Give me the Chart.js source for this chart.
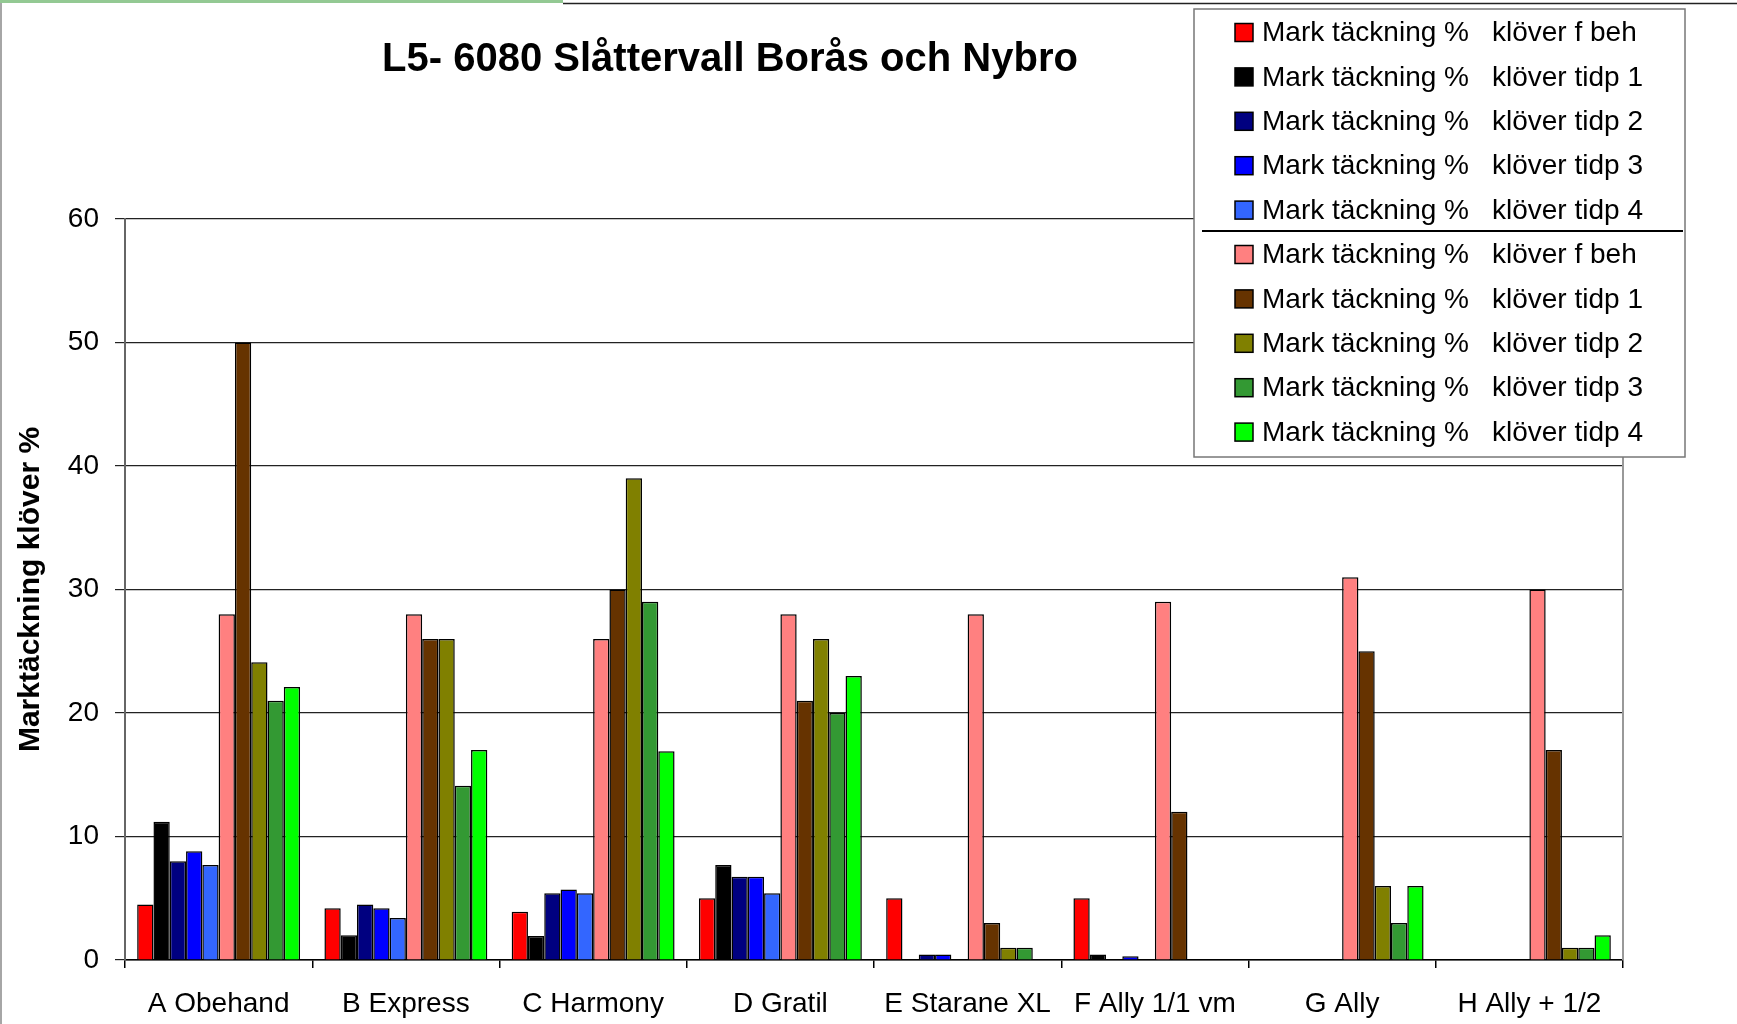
<!DOCTYPE html>
<html>
<head>
<meta charset="utf-8">
<script src="https://cdn.jsdelivr.net/npm/chart.js@4.4.0/dist/chart.umd.min.js"></script>
<style>
  body { margin: 0; background: #fff; }
  #wrap { width: 1737px; height: 1024px; position: relative; }
</style>
</head>
<body>
<div id="wrap"><canvas id="myChart"></canvas></div>
<script>
// categories + tick values
const categories = ['A Obehand', 'B Express', 'C Harmony', 'D Gratil', 'E Starane XL', 'F Ally 1/1 vm', 'G Ally', 'H Ally + 1/2'];
const yTicks = [0, 10, 20, 30, 40, 50, 60];
const chartTitle = 'L5- 6080 Slåttervall Borås och Nybro';

const seriesLabels = [
  'Mark täckning %  klöver f beh',
  'Mark täckning %  klöver tidp 1',
  'Mark täckning %  klöver tidp 2',
  'Mark täckning %  klöver tidp 3',
  'Mark täckning %  klöver tidp 4',
  'Mark täckning %  klöver f beh',
  'Mark täckning %  klöver tidp 1',
  'Mark täckning %  klöver tidp 2',
  'Mark täckning %  klöver tidp 3',
  'Mark täckning %  klöver tidp 4'
];
const seriesColors = ['#FF0000', '#000000', '#000080', '#0000FF', '#3366FF', '#FF8080', '#663300', '#808000', '#339933', '#00FF00'];

// first site
const first_fBeh = [4.5, 4.2, 3.9, 5, 5, 5, null, null];
const first_tidp1 = [11.2, 2, 1.95, 7.7, null, 0.45, null, null];
const first_tidp2 = [8, 4.5, 5.4, 6.75, 0.45, null, null, null];
const first_tidp3 = [8.8, 4.2, 5.7, 6.75, 0.45, 0.3, null, null];
const first_tidp4 = [7.7, 3.4, 5.4, 5.4, null, null, null, null];
// second site
const second_fBeh = [28, 28, 26, 28, 28, 29, 31, 30];
const second_tidp1 = [50, 26, 30, 21, 3, 12, 25, 17];
const second_tidp2 = [24.1, 26, 39, 26, 1, null, 6, 1];
const second_tidp3 = [21, 14.1, 29, 20, 1, null, 3, 1];
const second_tidp4 = [22.1, 17, 16.9, 23, null, null, 6, 2];

const allSeries = [first_fBeh, first_tidp1, first_tidp2, first_tidp3, first_tidp4,
  second_fBeh, second_tidp1, second_tidp2, second_tidp3, second_tidp4];

const FONT = "'Liberation Sans', Arial, Helvetica, sans-serif";

const datasets = allSeries.map((vals, i) => ({
  label: seriesLabels[i],
  data: vals,
  backgroundColor: seriesColors[i],
  borderColor: '#000',
  borderWidth: 1.5,
  categoryPercentage: 0.87,
  barPercentage: 1
}));

// frame, title, plot border and the boxed legend
const chrome = {
  id: 'chrome',
  beforeDraw(chart) {
    const ctx = chart.ctx;
    ctx.save();
    ctx.fillStyle = '#fff';
    ctx.fillRect(0, 0, chart.width, chart.height);
    ctx.fillStyle = '#93c993';
    ctx.fillRect(0, 0, 563, 3);
    ctx.strokeStyle = '#222';
    ctx.lineWidth = 1.5;
    ctx.beginPath();
    ctx.moveTo(563, 3.5);
    ctx.lineTo(chart.width, 3.5);
    ctx.stroke();
    ctx.strokeStyle = '#888';
    ctx.beginPath();
    ctx.moveTo(1, 3);
    ctx.lineTo(1, chart.height);
    ctx.stroke();

    ctx.fillStyle = '#000';
    ctx.font = 'bold 40px ' + FONT;
    ctx.textAlign = 'center';
    ctx.textBaseline = 'middle';
    ctx.fillText(chartTitle, 730, 60);
    ctx.restore();
  },
  afterDraw(chart) {
    const ctx = chart.ctx;
    const a = chart.chartArea;
    ctx.save();
    ctx.strokeStyle = '#999';
    ctx.lineWidth = 2;
    ctx.beginPath();
    ctx.moveTo(a.right, a.top);
    ctx.lineTo(a.right, a.bottom);
    ctx.stroke();

    // legend box
    const bx = 1194, by = 9, bw = 491, bh = 448;
    ctx.fillStyle = '#fff';
    ctx.fillRect(bx, by, bw, bh);
    ctx.strokeStyle = '#777';
    ctx.lineWidth = 1.5;
    ctx.strokeRect(bx, by, bw, bh);

    ctx.font = '28px ' + FONT;
    ctx.textBaseline = 'middle';
    ctx.textAlign = 'left';
    chart.data.datasets.forEach((ds, i) => {
      const y = 32.5 + i * 44.4;
      ctx.fillStyle = ds.backgroundColor;
      ctx.fillRect(1235, y - 9, 18, 18);
      ctx.strokeStyle = '#000';
      ctx.lineWidth = 1.5;
      ctx.strokeRect(1235, y - 9, 18, 18);
      ctx.fillStyle = '#000';
      const parts = ds.label.split('  ');
      ctx.fillText(parts[0], 1262, y + 1);
      ctx.fillText(parts[1], 1492, y + 1);
    });
    ctx.strokeStyle = '#000';
    ctx.lineWidth = 2;
    ctx.beginPath();
    ctx.moveTo(1202, 231);
    ctx.lineTo(1683, 231);
    ctx.stroke();
    ctx.restore();
  }
};

const ctx = document.getElementById('myChart').getContext('2d');
const myChart = new Chart(ctx, {
  type: 'bar',
  data: { labels: categories, datasets: datasets },
  options: {
    responsive: true,
    maintainAspectRatio: false,
    animation: false,
    layout: { padding: { left: 0, right: 114, top: 219, bottom: 0 } },
    plugins: {
      legend: { display: false },
      tooltip: { enabled: false },
      title: { display: false }
    },
    scales: {
      x: {
        grid: { offset: true, drawOnChartArea: false, drawTicks: true, tickLength: 8, color: '#000', lineWidth: 1.5 },
        border: { color: '#000', width: 1.5 },
        ticks: { color: '#000', padding: 19, maxRotation: 0, autoSkip: false, font: { family: FONT, size: 28 } },
        afterFit: (scale) => { scale.height = 64; }
      },
      y: {
        min: 0,
        max: 60,
        afterBuildTicks: (scale) => { scale.ticks = yTicks.map(v => ({ value: v })); },
        grid: { color: '#222', lineWidth: 1.2, tickLength: 10 },
        border: { color: '#666', width: 2 },
        ticks: { color: '#000', padding: 16, font: { family: FONT, size: 28 } },
        title: {
          display: true,
          text: 'Marktäckning klöver %',
          color: '#000',
          font: { family: FONT, size: 30, weight: 'bold', lineHeight: 1.2 },
          padding: { top: 13, bottom: 0 }
        },
        afterFit: (scale) => { scale.width = 125; }
      }
    }
  },
  plugins: [chrome]
});
</script>
</body>
</html>
